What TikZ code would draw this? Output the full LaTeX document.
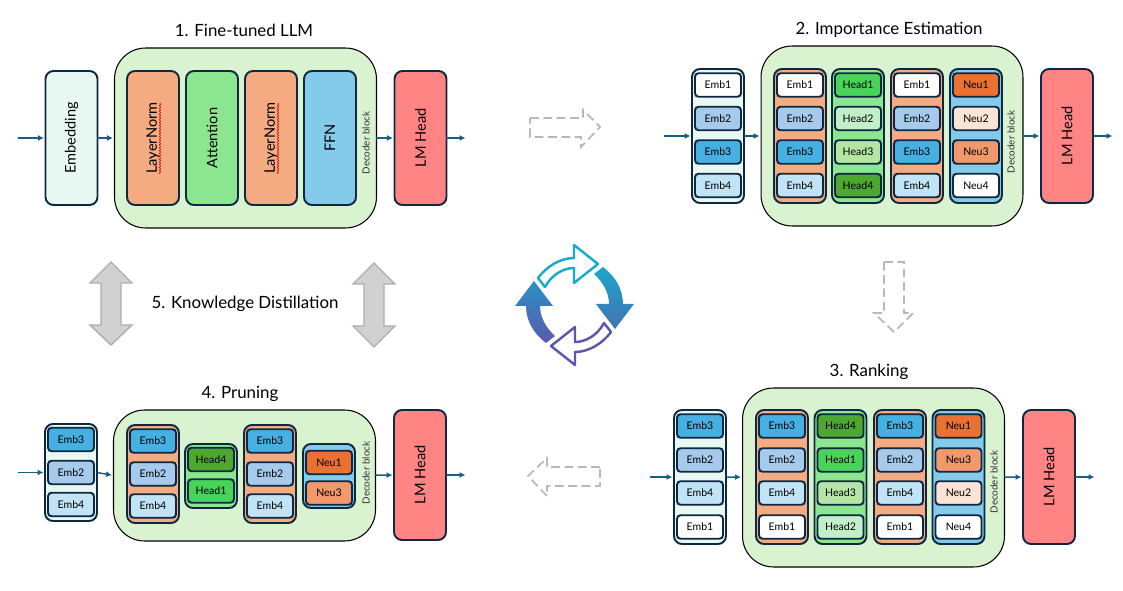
\documentclass[tikz,border=0pt]{standalone}
\usepackage{graphicx}
\usepackage{fontspec}
\setmainfont{Lato}
\usepackage{tikz}
\usetikzlibrary{arrows.meta, decorations.pathmorphing}

% Box colours
\definecolor{edgeblue}{HTML}{0E2841}
\definecolor{flowblue}{HTML}{156082}
\definecolor{blockgreen}{HTML}{D9F2D0}
\definecolor{embfill}{HTML}{E8F9F4}
\definecolor{normfill}{HTML}{F4AB82}
\definecolor{attnfill}{HTML}{8CE58F}
\definecolor{ffnfill}{HTML}{83CAEB}
\definecolor{lmfill}{HTML}{FF8585}
\definecolor{emb1}{HTML}{FFFFFF}
\definecolor{emb2}{HTML}{A6CAEC}
\definecolor{emb3}{HTML}{45B0E1}
\definecolor{emb4}{HTML}{C0E4F5}
\definecolor{head1}{HTML}{47D459}
\definecolor{head2}{HTML}{C1F0C8}
\definecolor{head3}{HTML}{B4E5A2}
\definecolor{head4}{HTML}{4EA72E}
\definecolor{neu1}{HTML}{E97132}
\definecolor{neu2}{HTML}{FBE3D6}
\definecolor{neu3}{HTML}{F1996B}
\definecolor{neu4}{HTML}{FFFFFF}

\tikzset{
    title/.style={font=\fontsize{9.6}{12}\selectfont},
    block/.style={draw=black, line width=0.6pt, fill=blockgreen, rounded corners=0.62cm, minimum width=5.24cm, inner sep=0pt, outer sep=0pt},
    tallbox/.style={draw=edgeblue, line width=1.1pt, rounded corners=0.16cm, minimum width=1.04cm, minimum height=2.68cm, inner sep=0pt, outer sep=0pt, font=\fontsize{8.3}{10}\selectfont},
    cell/.style={draw=edgeblue, line width=1.1pt, rounded corners=0.07cm, minimum width=0.92cm, minimum height=0.47cm, inner sep=0pt, font=\fontsize{6}{7}\selectfont},
    sidetext/.style={font=\fontsize{5.6}{7}\selectfont, inner sep=0pt, text=black!80},
    flow/.style={-{Latex[length=1.2mm,width=1.2mm]}, flowblue, line width=0.8pt, shorten >=0.3mm},
    dashedarrow/.style={draw=black!28, line width=1pt, dash pattern=on 5pt off 2.6pt},
    bigarrow/.style={draw=black!32, fill=black!18, line width=0.8pt},
    squiggle/.style={draw=red!85!black, line width=0.35pt, decorate, decoration={snake, amplitude=0.35pt, segment length=1.6pt}}
}

\begin{document}
\begin{tikzpicture}[x=0.02cm, y=-0.02cm]
    \useasboundingbox (0,0) rectangle (1123,591);

    % 1. Fine-tuned LLM
    \node[title] (title1) at (244,30) {1. Fine-tuned LLM};
    \coordinate (in1) at (18,138);
    \coordinate (out1) at (467,138);
    \node[block, minimum height=3.6cm] (dec1) at (245.5,138) {};
    \node[tallbox, fill=embfill] (emb1) at (71.5,138) {\rotatebox{90}{Embedding}};
    \node[tallbox, fill=normfill] (norma1) at (153,138) {\rotatebox{90}{LayerNorm}};
    \node[tallbox, fill=attnfill] (attn1) at (212,138) {\rotatebox{90}{Attention}};
    \node[tallbox, fill=normfill] (normb1) at (271,138) {\rotatebox{90}{LayerNorm}};
    \node[tallbox, fill=ffnfill] (ffn1) at (330,138) {\rotatebox{90}{FFN}};
    \node[tallbox, fill=lmfill] (lm1) at (420.5,138) {\rotatebox{90}{LM Head}};
    \node[sidetext, rotate=90] (side1) at (366,143) {Decoder block};
    \draw[squiggle] (160,174) -- (160,103);
    \draw[squiggle] (278,174) -- (278,103);
    \draw[flow] (in1) -- (emb1);
    \draw[flow] (emb1) -- (dec1);
    \draw[flow] (dec1) -- (lm1);
    \draw[flow] (lm1) -- (out1);

    % 2. Importance Estimation
    \node[title] (title2) at (889,30) {2. Importance Estimation};
    \coordinate (in2) at (664,136);
    \coordinate (out2) at (1114,136);
    \node[block, minimum height=3.6cm] (dec2) at (892,136) {};
    \node[tallbox, fill=embfill] (emb2col) at (718,136) {};
    \node[tallbox, fill=normfill] (norma2) at (800,136) {};
    \node[tallbox, fill=attnfill] (attn2) at (858,136) {};
    \node[tallbox, fill=normfill] (normb2) at (917,136) {};
    \node[tallbox, fill=ffnfill] (ffn2) at (976,136) {};
    \node[tallbox, fill=lmfill] (lm2) at (1067,136) {\rotatebox{90}{LM Head}};
    \foreach \cx/\cn in {718/a,800/b,917/c}
        \foreach \cy/\n in {85/1,118.5/2,152/3,185.5/4}
            \node[cell, fill=emb\n] (emb\cn\n) at (\cx,\cy) {Emb\n};
    \foreach \cy/\n in {85/1,118.5/2,152/3,185.5/4} {
        \node[cell, fill=head\n] (headb\n) at (858,\cy) {Head\n};
        \node[cell, fill=neu\n] (neub\n) at (976,\cy) {Neu\n};
    }
    \node[sidetext, rotate=90] (side2) at (1011,142) {Decoder block};
    \draw[flow] (in2) -- (emb2col);
    \draw[flow] (emb2col) -- (dec2);
    \draw[flow] (dec2) -- (lm2);
    \draw[flow] (lm2) -- (out2);

    % 3. Ranking
    \node[title] (title3) at (869,372) {3. Ranking};
    \coordinate (in3) at (650,477);
    \coordinate (out3) at (1096,477);
    \node[block, minimum height=3.58cm] (dec3) at (873.5,477.5) {};
    \node[tallbox, fill=embfill] (emb3col) at (700,477) {};
    \node[tallbox, fill=normfill] (norma3) at (782,477) {};
    \node[tallbox, fill=attnfill] (attn3) at (840.5,477) {};
    \node[tallbox, fill=normfill] (normb3) at (900,477) {};
    \node[tallbox, fill=ffnfill] (ffn3) at (958.5,477) {};
    \node[tallbox, fill=lmfill] (lm3) at (1049,477) {\rotatebox{90}{LM Head}};
    \foreach \cx/\cn in {700/d,782/e,900/f}
        \foreach \cy/\n in {426/3,460/2,493/4,527/1}
            \node[cell, fill=emb\n] (emb\cn\n) at (\cx,\cy) {Emb\n};
    \foreach \cy/\n in {426/4,460/1,493/3,527/2}
        \node[cell, fill=head\n] (heade\n) at (840.5,\cy) {Head\n};
    \foreach \cy/\n in {426/1,460/3,493/2,527/4}
        \node[cell, fill=neu\n] (neue\n) at (958.5,\cy) {Neu\n};
    \node[sidetext, rotate=90] (side3) at (994,482) {Decoder block};
    \draw[flow] (in3) -- (emb3col);
    \draw[flow] (emb3col) -- (dec3);
    \draw[flow] (dec3) -- (lm3);
    \draw[flow] (lm3) -- (out3);

    % 4. Pruning
    \node[title] (title4) at (240,394) {4. Pruning};
    \coordinate (in4) at (18,472.5);
    \coordinate (out4) at (467,475);
    \node[block, minimum height=2.62cm] (dec4) at (244.5,475.5) {};
    \node[tallbox, fill=embfill, minimum height=1.94cm] (emb4col) at (71,472.5) {};
    \node[tallbox, fill=normfill, minimum height=1.96cm] (norma4) at (153,474) {};
    \node[tallbox, fill=attnfill, minimum height=1.28cm] (attn4) at (211,476) {};
    \node[tallbox, fill=normfill, minimum height=1.96cm] (normb4) at (270,474) {};
    \node[tallbox, fill=ffnfill, minimum height=1.28cm] (ffn4) at (329,476) {};
    \node[tallbox, fill=lmfill, minimum height=2.6cm] (lm4) at (420,475) {\rotatebox{90}{LM Head}};
    \foreach \cy/\n in {439.5/3,472.5/2,504.5/4}
        \node[cell, fill=emb\n] (embg\n) at (71,\cy) {Emb\n};
    \foreach \cx/\cn in {153/h,270/i}
        \foreach \cy/\n in {441/3,474/2,506/4}
            \node[cell, fill=emb\n] (emb\cn\n) at (\cx,\cy) {Emb\n};
    \foreach \cy/\n in {459.5/4,491/1}
        \node[cell, fill=head\n] (headh\n) at (211,\cy) {Head\n};
    \foreach \cy/\n in {462.5/1,493/3}
        \node[cell, fill=neu\n] (neuh\n) at (329,\cy) {Neu\n};
    \node[sidetext, rotate=90] (side4) at (366,473) {Decoder block};
    \draw[flow] (in4) -- (emb4col);
    \draw[flow] (emb4col.east) -- (dec4.west);
    \draw[flow] (dec4) -- (lm4);
    \draw[flow] (lm4) -- (out4);

    % 5. Knowledge Distillation
    \node[title] (title5) at (245,304) {5. Knowledge Distillation};
    \draw[bigarrow] (111,262) -- (132,283) -- (121,283) -- (121,325) -- (132,325) -- (111,345) -- (90,325) -- (101,325) -- (101,283) -- (90,283) -- cycle;
    \draw[bigarrow] (374,263) -- (395,284) -- (384,284) -- (384,326) -- (395,326) -- (374,347) -- (353,326) -- (364,326) -- (364,284) -- (353,284) -- cycle;

    % Dashed step arrows
    \draw[dashedarrow] (530,118) -- (583,118) -- (583,110) -- (600,127) -- (581,147) -- (581,137) -- (530,137) -- cycle;
    \draw[dashedarrow] (884,262) -- (904,262) -- (904,313) -- (913,313) -- (894,332) -- (874,313) -- (884,313) -- cycle;
    \draw[dashedarrow] (600,467) -- (547,467) -- (547,458) -- (528,476) -- (547,496) -- (547,486) -- (600,486) -- cycle;

    % Cycle in the middle
    \draw[draw={rgb,255:red,23;green,171;blue,207}, line width=1.4pt, line join=round] (574,245) -- (598,264) -- (574,283) -- (574,268) .. controls (564,268) and (552,274) .. (545,287) -- (538,278) .. controls (546,267) and (560,258) .. (574,258) -- cycle;
    \shade[top color={rgb,255:red,28;green,166;blue,205}, bottom color={rgb,255:red,66;green,114;blue,180}] (603,267) .. controls (615,276) and (623,289) .. (623,304) -- (634,304) -- (615,329) -- (596,304) -- (609,304) .. controls (609,293) and (603,282) .. (594,274) -- cycle;
    \draw[draw={rgb,255:red,93;green,88;blue,171}, line width=1.4pt, line join=round] (575,365) -- (551,346) -- (575,327) -- (575,342) .. controls (585,342) and (597,336) .. (604,323) -- (611,332) .. controls (603,343) and (589,352) .. (575,352) -- cycle;
    \shade[top color={rgb,255:red,42;green,144;blue,196}, bottom color={rgb,255:red,90;green,90;blue,172}] (546,343) .. controls (534,334) and (526,321) .. (526,306) -- (515,306) -- (534,281) -- (553,306) -- (540,306) .. controls (540,317) and (546,328) .. (555,336) -- cycle;
\end{tikzpicture}
\end{document}
